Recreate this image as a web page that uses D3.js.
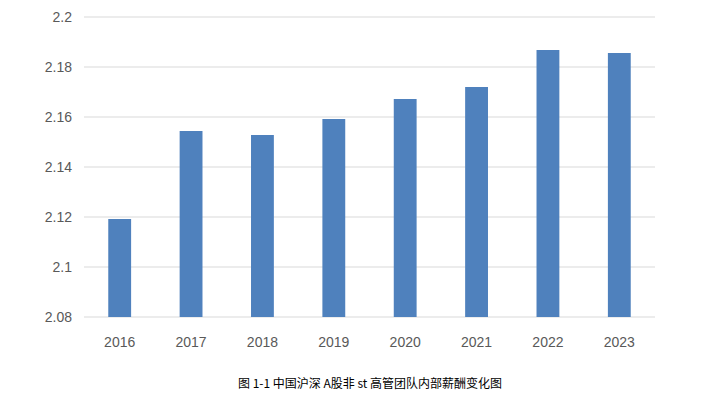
<!DOCTYPE html>
<html><head><meta charset="utf-8">
<script src="https://cdn.jsdelivr.net/npm/d3@7"></script>
<style>body{margin:0;background:#fff}</style></head>
<body><svg id="c" width="701" height="402"></svg>
<script>
const years=["2016","2017","2018","2019","2020","2021","2022","2023"];
const values=[2.1192,2.1544,2.1528,2.1592,2.1672,2.172,2.1868,2.1856];
const yTicks=[2.08,2.1,2.12,2.14,2.16,2.18,2.2];
const yTickLabels=["2.08","2.1","2.12","2.14","2.16","2.18","2.2"];
const caption="图 1-1 中国沪深 A股非 st 高管团队内部薪酬变化图";

const svg=d3.select("#c");
const x=d3.scaleBand().domain(years).range([84,655]).paddingInner(0.68).paddingOuter(0.34);
const y=d3.scaleLinear().domain([2.08,2.2]).range([317,17]);
const font="'Liberation Sans','DejaVu Sans',sans-serif";
svg.append("g").selectAll("line").data(yTicks).join("line")
 .attr("x1",84).attr("x2",655).attr("y1",d=>y(d)).attr("y2",d=>y(d))
 .attr("stroke","#d9d9d9").attr("stroke-width",1);
svg.append("g").selectAll("text").data(yTicks).join("text")
 .attr("x",72).attr("y",d=>y(d)+5).attr("text-anchor","end")
 .attr("font-family",font).attr("font-size",14).attr("fill","#595959")
 .text((d,i)=>yTickLabels[i]);
svg.append("g").selectAll("rect").data(values).join("rect")
 .attr("x",(d,i)=>x(years[i])).attr("width",x.bandwidth())
 .attr("y",d=>y(d)).attr("height",d=>y(2.08)-y(d)).attr("fill","#4f81bd");
svg.append("g").selectAll("text").data(years).join("text")
 .attr("x",d=>x(d)+x.bandwidth()/2).attr("y",347).attr("text-anchor","middle")
 .attr("font-family",font).attr("font-size",14).attr("fill","#595959").text(d=>d);
svg.append("text").attr("x",370).attr("y",388).attr("text-anchor","middle")
 .attr("font-family","'Noto Sans CJK SC',sans-serif").attr("font-size",12).attr("fill","#000").text(caption);
</script></body></html>
